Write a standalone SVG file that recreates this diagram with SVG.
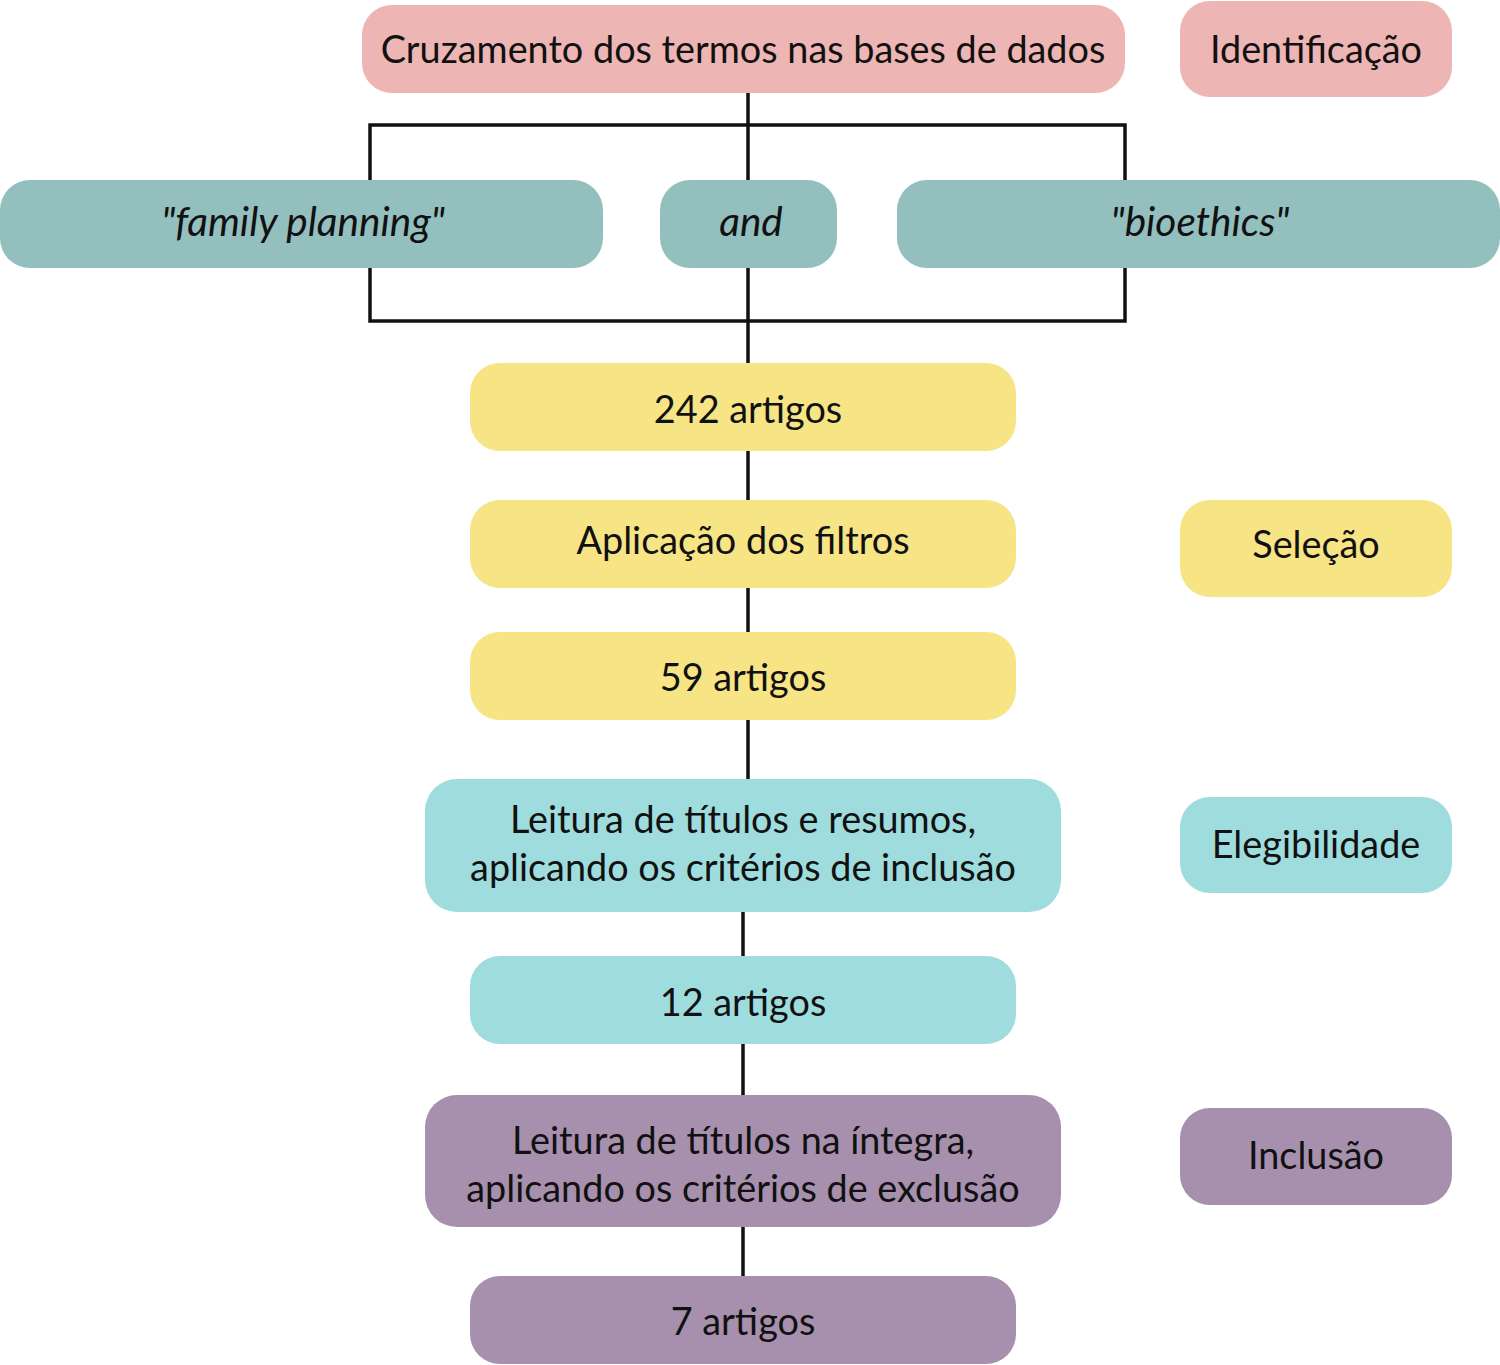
<svg xmlns="http://www.w3.org/2000/svg" width="1500" height="1365" viewBox="0 0 1500 1365">
<style>
text{font-family:Lato,"Open Sans","Liberation Sans",sans-serif;font-size:37.8px;fill:#111;text-anchor:middle}
.it{font-style:italic;font-size:40.5px}
.pink{fill:#EDB5B3}
.teal{fill:#94BFBF}
.yel{fill:#F7E485}
.cyan{fill:#9FDCDE}
.pur{fill:#A690AD}
.ln{stroke:#111;stroke-width:3.5;fill:none}
</style>
<rect width="1500" height="1365" fill="#fff"/>
<g id="connectors">
<rect class="ln" x="370" y="125" width="755" height="196"/>
<line class="ln" x1="748" y1="93" x2="748" y2="363"/>
<line class="ln" x1="748" y1="451" x2="748" y2="500"/>
<line class="ln" x1="748" y1="588" x2="748" y2="632"/>
<line class="ln" x1="748" y1="720" x2="748" y2="779"/>
<line class="ln" x1="743" y1="912" x2="743" y2="956"/>
<line class="ln" x1="743" y1="1044" x2="743" y2="1095"/>
<line class="ln" x1="743" y1="1227" x2="743" y2="1276"/>
</g>
<g id="cruzamento"><rect class="pink" x="362" y="5" width="763" height="88" rx="30"/><text x="743" y="63">Cruzamento dos termos nas bases de dados</text></g>
<g id="identificacao"><rect class="pink" x="1180" y="1" width="272" height="96" rx="30"/><text x="1316" y="63">Identificação</text></g>
<g id="family"><rect class="teal" x="0" y="180" width="603" height="88" rx="30"/><text class="it" x="303" y="236">"family planning"</text></g>
<g id="and"><rect class="teal" x="660" y="180" width="177" height="88" rx="30"/><text class="it" x="751" y="236">and</text></g>
<g id="bioethics"><rect class="teal" x="897" y="180" width="603" height="88" rx="30"/><text class="it" x="1200" y="236">"bioethics"</text></g>
<g id="a242"><rect class="yel" x="470" y="363" width="546" height="88" rx="30"/><text x="748" y="423">242 artigos</text></g>
<g id="filtros"><rect class="yel" x="470" y="500" width="546" height="88" rx="30"/><text x="743" y="554">Aplicação dos filtros</text></g>
<g id="selecao"><rect class="yel" x="1180" y="500" width="272" height="97" rx="30"/><text x="1316" y="558">Seleção</text></g>
<g id="a59"><rect class="yel" x="470" y="632" width="546" height="88" rx="30"/><text x="743" y="691">59 artigos</text></g>
<g id="leitura1"><rect class="cyan" x="425" y="779" width="636" height="133" rx="32"/><text x="743" y="833">Leitura de títulos e resumos,</text><text x="743" y="881">aplicando os critérios de inclusão</text></g>
<g id="elegibilidade"><rect class="cyan" x="1180" y="797" width="272" height="96" rx="30"/><text x="1316" y="858">Elegibilidade</text></g>
<g id="a12"><rect class="cyan" x="470" y="956" width="546" height="88" rx="30"/><text x="743" y="1016">12 artigos</text></g>
<g id="leitura2"><rect class="pur" x="425" y="1095" width="636" height="132" rx="32"/><text x="743" y="1154">Leitura de títulos na íntegra,</text><text x="743" y="1202">aplicando os critérios de exclusão</text></g>
<g id="inclusao"><rect class="pur" x="1180" y="1108" width="272" height="97" rx="30"/><text x="1316" y="1169">Inclusão</text></g>
<g id="a7"><rect class="pur" x="470" y="1276" width="546" height="88" rx="30"/><text x="743" y="1335">7 artigos</text></g>
</svg>
